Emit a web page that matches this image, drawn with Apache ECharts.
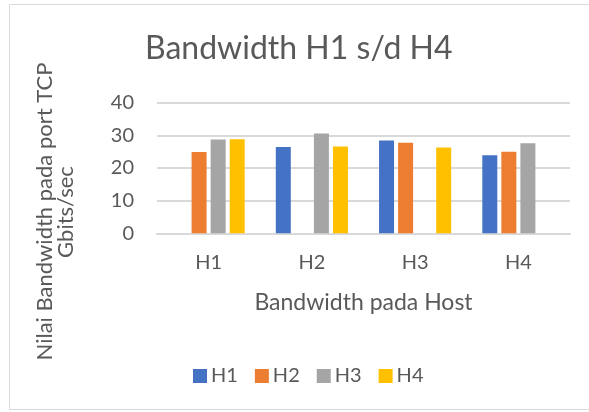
<!DOCTYPE html>
<html>
<head>
<meta charset="utf-8">
<script src="https://cdn.jsdelivr.net/npm/echarts@6/dist/echarts.min.js"></script>
<style>html,body{margin:0;padding:0;background:#fff}#c{width:589px;height:412px}</style>
</head>
<body>
<div id="c"></div>
<script>
var categories = ['H1', 'H2', 'H3', 'H4'];
var seriesNames = ['H1', 'H2', 'H3', 'H4'];
var valuesH1 = [null, 26.4, 28.4, 23.9];
var valuesH2 = [24.9, null, 27.7, 25.0];
var valuesH3 = [28.7, 30.6, null, 27.6];
var valuesH4 = [28.8, 26.6, 26.3, null];
var yTicks = [0, 10, 20, 30, 40];
var colors = ['#4472C4', '#ED7D31', '#A5A5A5', '#FFC000'];

var FONT = 'Lato';
var TXT = '#595959';
var chart = echarts.init(document.getElementById('c'));
var allValues = [valuesH1, valuesH2, valuesH3, valuesH4];
chart.setOption({
  animation: false,
  color: colors,
  textStyle: { fontFamily: FONT },
  title: {
    text: 'Bandwidth H1 s/d H4',
    left: 140, top: 27.5,
    textStyle: { fontFamily: FONT, fontSize: 32, fontWeight: 'normal', color: TXT }
  },
  legend: {
    data: seriesNames,
    left: 188, top: 361,
    icon: 'rect', itemWidth: 14, itemHeight: 14, itemGap: 17,
    textStyle: { fontFamily: FONT, fontSize: 20, color: TXT, padding: [0, 0, 0, -1] }
  },
  grid: { left: 157, right: 19, top: 102.7, bottom: 178.7 },
  xAxis: {
    type: 'category', data: categories,
    axisLine: { lineStyle: { color: '#d9d9d9', width: 2 } },
    axisTick: { show: false },
    axisLabel: { fontFamily: FONT, fontSize: 20, color: TXT, margin: 19 },
    name: 'Bandwidth pada Host', nameLocation: 'middle', nameGap: 58,
    nameTextStyle: { fontFamily: FONT, fontSize: 23, color: TXT }
  },
  yAxis: {
    type: 'value', min: yTicks[0], max: yTicks[yTicks.length - 1], interval: 10,
    axisLine: { show: false }, axisTick: { show: false },
    splitLine: { lineStyle: { color: '#d9d9d9', width: 2 } },
    axisLabel: { fontFamily: FONT, fontSize: 20, color: TXT, margin: 23 }
  },
  graphic: [
    { type: 'rect', shape: { x: 9.5, y: 4.5, width: 600, height: 405 }, style: { fill: 'none', stroke: '#d9d9d9', lineWidth: 1 }, silent: true },
    { type: 'text', x: 45, y: 211.5, rotation: Math.PI / 2, style: { text: 'Nilai Bandwidth pada port TCP', fontFamily: FONT, fontSize: 22, fill: TXT, align: 'center', verticalAlign: 'middle' } },
    { type: 'text', x: 66, y: 212, rotation: Math.PI / 2, style: { text: 'Gbits/sec', fontFamily: FONT, fontSize: 22, fill: TXT, align: 'center', verticalAlign: 'middle' } }
  ],
  series: seriesNames.map(function (n, i) {
    return { name: n, type: 'bar', data: allValues[i], barWidth: 15, barGap: '27%' };
  })
});
</script>
</body>
</html>
